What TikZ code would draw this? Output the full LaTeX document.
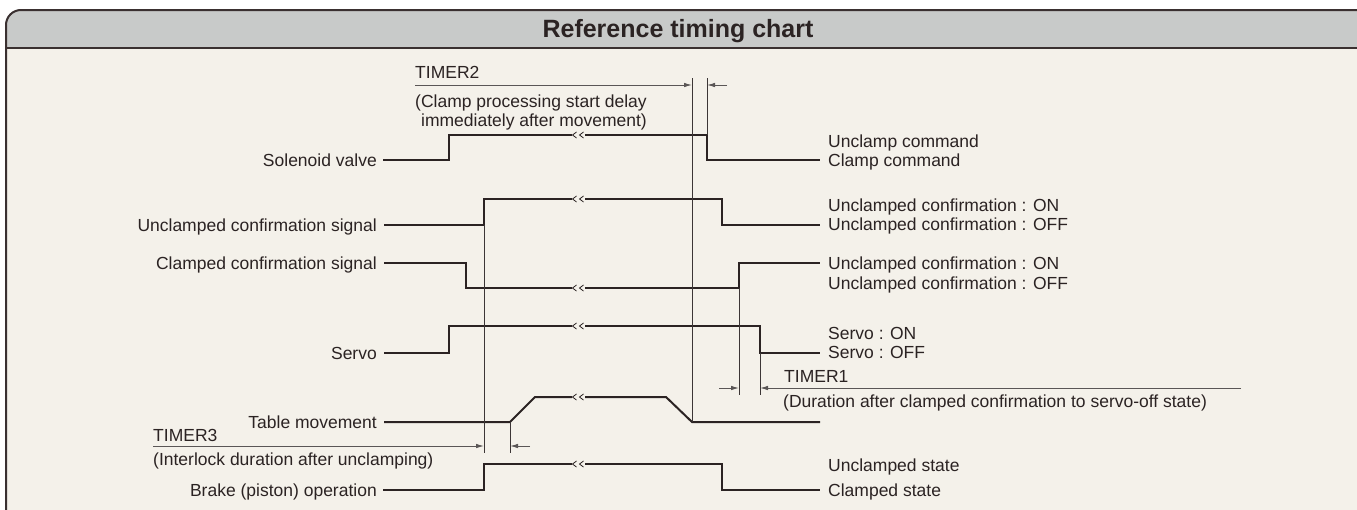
\documentclass[tikz,border=0pt]{standalone}
\usepackage{fontspec}
\setmainfont{Liberation Sans}
\usetikzlibrary{arrows.meta}
\definecolor{bodycol}{HTML}{F4F1EA}
\definecolor{headcol}{HTML}{C8CAC9}
\definecolor{inkcol}{HTML}{2B2323}
\definecolor{framecol}{HTML}{3A3030}
\definecolor{thincol}{HTML}{3C3636}
\definecolor{dimcol}{HTML}{5A5656}
\begin{document}
\begin{tikzpicture}[x=1pt,y=-1pt,
  wave/.style={draw=inkcol, line width=2pt, line join=miter},
  guide/.style={draw=thincol, line width=0.9pt},
  dimline/.style={draw=dimcol, line width=0.9pt, -{Latex[length=8pt,width=4.5pt]}},
  lbl/.style={inner sep=0pt, text=inkcol, font=\fontsize{17.5}{21}\selectfont},
  ttl/.style={inner sep=0pt, text=inkcol, font=\fontsize{25}{30}\selectfont\bfseries},
  brk/.pic={
    \fill[bodycol] (-6,-2.8) rectangle (7,2.8);
    \draw[inkcol, line width=0.8pt] (-1.5,-3) -- (-5.5,0) -- (-1.5,3) (5.5,-3) -- (1.5,0) -- (5.5,3);
  }
]
\useasboundingbox (0,0) rectangle (1357,509);
\begin{scope}
  \clip (0,0) rectangle (1357,509);
  \fill[white] (0,0) rectangle (1357,509);
  \path[fill=bodycol, rounded corners=15pt] (6,10) rectangle (1420,600);
  \begin{scope}
    \clip[rounded corners=15pt] (6,10) rectangle (1420,600);
    \fill[headcol] (0,0) rectangle (1420,48);
  \end{scope}
  \draw[framecol, line width=2pt] (6,48) -- (1420,48);
  \draw[framecol, line width=2pt, rounded corners=15pt] (6,10) rectangle (1420,600);
\end{scope}

\node[ttl, anchor=base] (title) at (678,37) {Reference timing chart};

% left labels
\node[lbl, anchor=base east] (lsol) at (377,166.5) {Solenoid valve};
\node[lbl, anchor=base east] (lunc) at (377,231.5) {Unclamped confirmation signal};
\node[lbl, anchor=base east] (lcla) at (377,269.5) {Clamped confirmation signal};
\node[lbl, anchor=base east] (lser) at (377,359) {Servo};
\node[lbl, anchor=base east] (ltab) at (377,428.5) {Table movement};
\node[lbl, anchor=base east] (lbra) at (377,496.5) {Brake (piston) operation};

% right labels
\node[lbl, anchor=base west] (rsol1) at (828,147) {Unclamp command};
\node[lbl, anchor=base west] (rsol2) at (828,166.5) {Clamp command};
\node[lbl, anchor=base west] (runc1) at (828,211) {Unclamped confirmation : ON};
\node[lbl, anchor=base west] (runc2) at (828,230.5) {Unclamped confirmation : OFF};
\node[lbl, anchor=base west] (rcla1) at (828,269.5) {Unclamped confirmation : ON};
\node[lbl, anchor=base west] (rcla2) at (828,289) {Unclamped confirmation : OFF};
\node[lbl, anchor=base west] (rser1) at (828,339) {Servo : ON};
\node[lbl, anchor=base west] (rser2) at (828,358.5) {Servo : OFF};
\node[lbl, anchor=base west] (rbra1) at (828,471) {Unclamped state};
\node[lbl, anchor=base west] (rbra2) at (828,496.5) {Clamped state};

% timer texts
\node[lbl, anchor=base west] (t2a) at (415,78) {TIMER2};
\node[lbl, anchor=base west] (t2b) at (415,107) {(Clamp processing start delay};
\node[lbl, anchor=base west] (t2c) at (421,126.5) {immediately after movement)};
\node[lbl, anchor=base west] (t3a) at (153,441) {TIMER3};
\node[lbl, anchor=base west] (t3b) at (153,465) {(Interlock duration after unclamping)};
\node[lbl, anchor=base west] (t1a) at (784,382) {TIMER1};
\node[lbl, anchor=base west] (t1b) at (783,407) {(Duration after clamped confirmation to servo-off state)};

% waveforms
\draw[wave] (383,160) -- (449,160) -- (449,135) -- (707,135) -- (707,160) -- (820,160);
\draw[wave] (384,225) -- (484,225) -- (484,199) -- (722,199) -- (722,225) -- (820,225);
\draw[wave] (384,263) -- (466,263) -- (466,288) -- (739,288) -- (739,263) -- (820,263);
\draw[wave] (384,353) -- (449,353) -- (449,326) -- (760,326) -- (760,353) -- (820,353);
\draw[wave] (384,422) -- (510,422) -- (535,397) -- (666,397) -- (692,422) -- (820,422);
\draw[wave] (383,490) -- (484,490) -- (484,464) -- (722,464) -- (722,490) -- (820,490);

% break marks
\foreach \yy in {135,199,288,326,397,464} { \pic at (578,\yy) {brk}; }

% guide lines
\coordinate (gA1) at (484,225); \coordinate (gA2) at (484,453);
\coordinate (gB1) at (692,78);  \coordinate (gB2) at (692,422);
\coordinate (gC1) at (707,78);  \coordinate (gC2) at (707,135);
\coordinate (gD1) at (510,422); \coordinate (gD2) at (510,453);
\coordinate (gE1) at (739,288); \coordinate (gE2) at (739,395);
\coordinate (gF1) at (760,353); \coordinate (gF2) at (760,395);
\draw[guide] (gA1) -- (gA2);
\draw[guide] (gB1) -- (gB2);
\draw[guide] (gC1) -- (gC2);
\draw[guide] (gD1) -- (gD2);
\draw[guide] (gE1) -- (gE2);
\draw[guide] (gF1) -- (gF2);

% timer dimension arrows
\coordinate (d2s) at (415,85);  \coordinate (d2r) at (727,85);
\coordinate (d3s) at (153,446); \coordinate (d3r) at (530,446);
\coordinate (d1s) at (719,388); \coordinate (d1r) at (1241,388);
\draw[dimline] (d2s) -- (gB1 |- d2s);
\draw[dimline] (d2r) -- (gC1 |- d2r);
\draw[dimline] (d3s) -- (gA1 |- d3s);
\draw[dimline] (d3r) -- (gD1 |- d3r);
\draw[dimline] (d1s) -- (gE1 |- d1s);
\draw[dimline] (d1r) -- (gF1 |- d1r);
\end{tikzpicture}
\end{document}
